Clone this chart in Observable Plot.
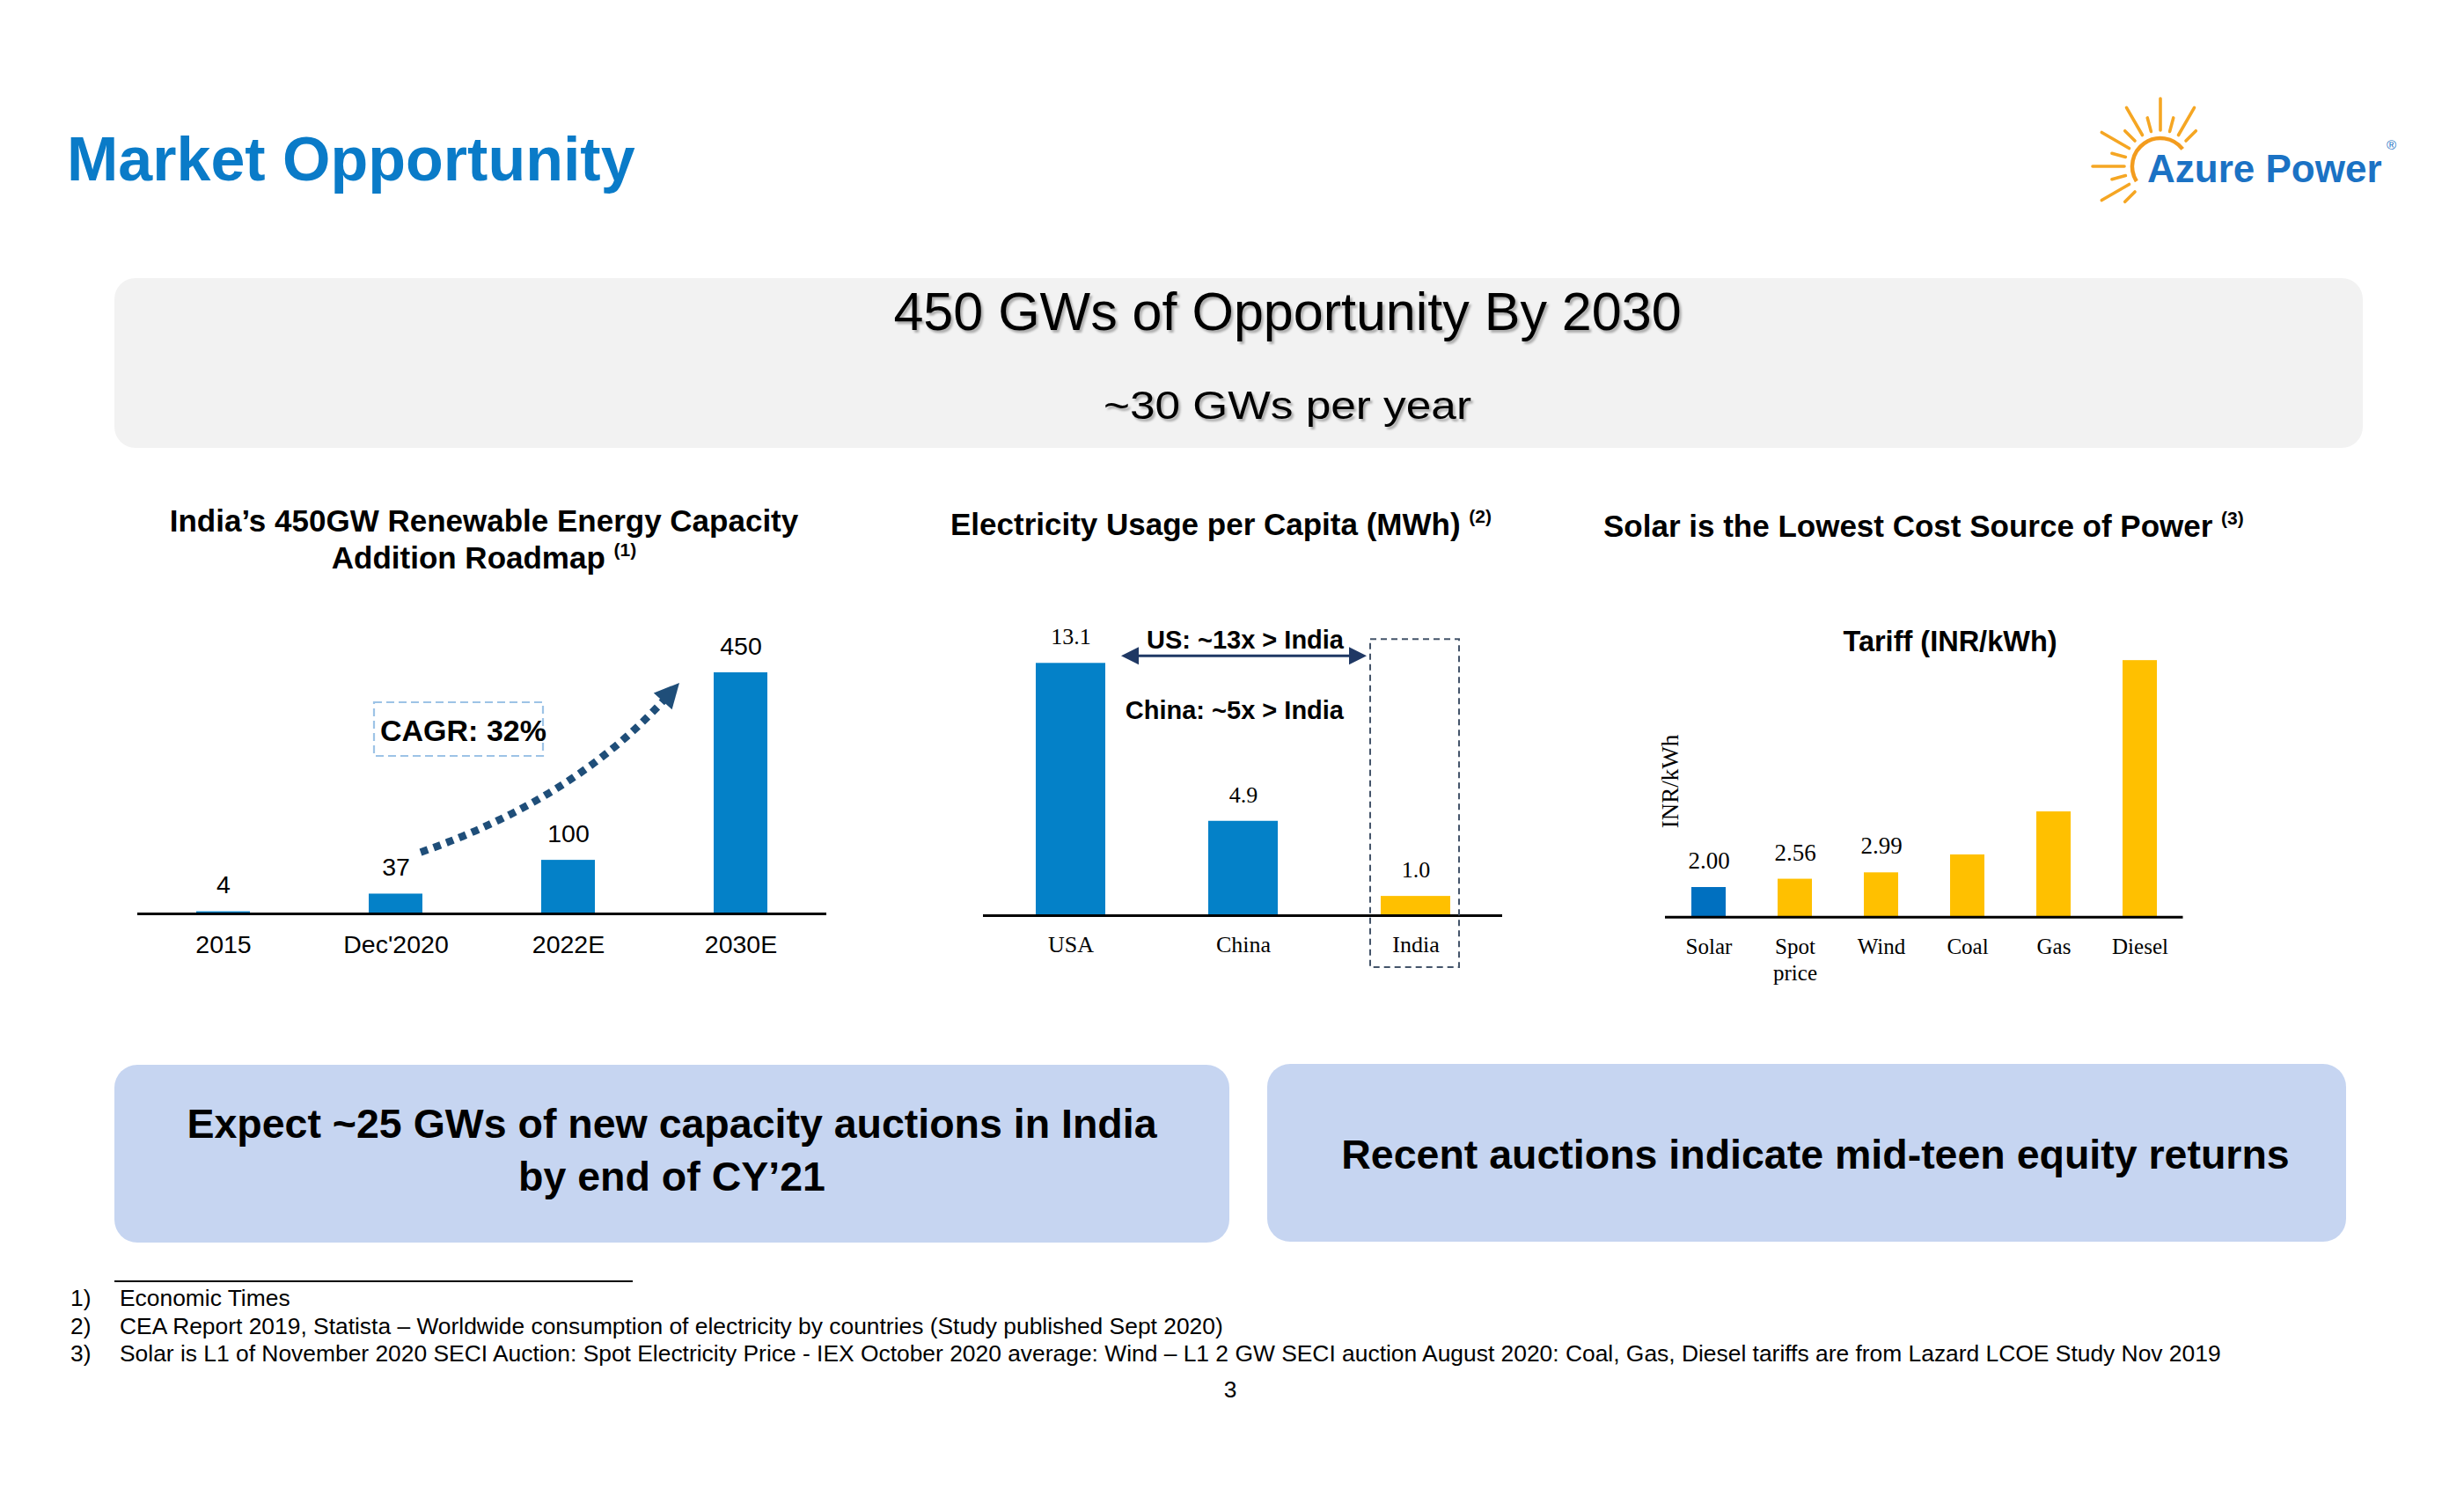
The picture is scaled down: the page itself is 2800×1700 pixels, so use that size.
<!DOCTYPE html>
<html>
<head>
<meta charset="utf-8">
<title>Market Opportunity</title>
<script src="https://cdn.jsdelivr.net/npm/d3@7"></script>
<script src="https://cdn.jsdelivr.net/npm/@observablehq/plot@0.6"></script>
<style>
  html, body { margin: 0; padding: 0; background: #fff; }
  #page { position: relative; width: 2800px; height: 1700px; overflow: hidden; background: #fff; }
  #bg { position: absolute; left: 0; top: 0; }
  .chart { position: absolute; }
</style>
</head>
<body>
<div id="page">
<svg id="bg" width="2800" height="1700" xmlns="http://www.w3.org/2000/svg" font-family="'Liberation Sans', Arial, Helvetica, sans-serif">
  <defs>
    <filter id="shadow" x="-5%" y="-40%" width="110%" height="180%">
      <feDropShadow dx="2.5" dy="3" stdDeviation="1.3" flood-color="#000" flood-opacity="0.28"/>
    </filter>
  </defs>
  <text x="76" y="205" font-size="70" font-weight="bold" fill="#0a7bc8">Market Opportunity</text>

  <g id="logo"></g>

  <rect x="130" y="316" width="2555" height="193" rx="24" fill="#f2f2f2"/>
  <text x="1463" y="375" text-anchor="middle" font-size="61" fill="#000" filter="url(#shadow)">450 GWs of Opportunity By 2030</text>
  <text x="1463" y="476" text-anchor="middle" font-size="44" textLength="418" lengthAdjust="spacingAndGlyphs" fill="#000" filter="url(#shadow)">~30 GWs per year</text>

  <text x="550" y="604" text-anchor="middle" font-size="35" font-weight="bold">India’s 450GW Renewable Energy Capacity</text>
  <text x="550" y="646" text-anchor="middle" font-size="35" font-weight="bold">Addition Roadmap <tspan font-size="21" dy="-14">(1)</tspan></text>
  <text x="1080" y="608" font-size="35" font-weight="bold">Electricity Usage per Capita (MWh) <tspan font-size="21" dy="-14">(2)</tspan></text>
  <text x="1822" y="610" font-size="35" font-weight="bold">Solar is the Lowest Cost Source of Power <tspan font-size="21" dy="-14">(3)</tspan></text>
  <text x="2216" y="740" text-anchor="middle" font-size="32.5" font-weight="bold">Tariff (INR/kWh)</text>

  <rect x="130" y="1210" width="1267" height="202" rx="26" fill="#c6d5f1"/>
  <rect x="1440" y="1209" width="1226" height="202" rx="26" fill="#c6d5f1"/>
  <text x="763.5" y="1293" text-anchor="middle" font-size="46.5" font-weight="bold">Expect ~25 GWs of new capacity auctions in India</text>
  <text x="763.5" y="1353" text-anchor="middle" font-size="46.5" font-weight="bold">by end of CY’21</text>
  <text x="2063" y="1328" text-anchor="middle" font-size="46.5" font-weight="bold">Recent auctions indicate mid-teen equity returns</text>

  <line x1="130" x2="719" y1="1456" y2="1456" stroke="#000" stroke-width="2"/>
  <g font-size="26.4" fill="#000">
    <text x="80" y="1484">1)</text>
    <text x="136" y="1484">Economic Times</text>
    <text x="80" y="1516">2)</text>
    <text x="136" y="1516">CEA Report 2019, Statista – Worldwide consumption of electricity by countries (Study published Sept 2020)</text>
    <text x="80" y="1547">3)</text>
    <text x="136" y="1547">Solar is L1 of November 2020 SECI Auction: Spot Electricity Price -  IEX October 2020 average: Wind – L1 2 GW SECI auction August 2020: Coal, Gas, Diesel tariffs are from Lazard LCOE Study Nov 2019</text>
    <text x="1398" y="1588" text-anchor="middle">3</text>
  </g>
</svg>
<div id="c1" class="chart" style="left:156px; top:690px; width:783px;"></div>
<div id="c2" class="chart" style="left:1117px; top:690px; width:590px;"></div>
<div id="c3" class="chart" style="left:1891.5px; top:690px; width:588.5px;"></div>
</div>

<script>
// ---------------- DATA ----------------
const roadmapYears = ["2015", "Dec'2020", "2022E", "2030E"];
const roadmapGW = [4, 37, 100, 450];

const usageCountries = ["USA", "China", "India"];
const usageMWh = [13.1, 4.9, 1.0];

const tariffSources = ["Solar", "Spot price", "Wind", "Coal", "Gas", "Diesel"];
const tariffINR = [2.00, 2.56, 2.99, 4.2, 7.1, 17.3];
const tariffLabelled = ["Solar", "Spot price", "Wind"];

// ---------------- STYLE ----------------
const SANS = "'Liberation Sans', Arial, Helvetica, sans-serif";
const SERIF = "'Liberation Serif', 'Times New Roman', serif";
const BLUE = "#0481c8";
const SOLAR_BLUE = "#0070c0";
const GOLD = "#ffc000";
const NAVY = "#1f4e79";
const DARK_NAVY = "#1f3864";

// ---------------- LOGO (decoration) ----------------
{
  const g = d3.select("#logo");
  const cx = 2455, cy = 189;
  const rays = [45, 60, 75, 90, 105, 120, 135, 150, 165, 180, 195, 210, 225];
  rays.forEach((a, i) => {
    const long = i % 2 === 1;
    const r0 = 41, r1 = long ? 77 : 57;
    const t = a * Math.PI / 180;
    g.append("line")
      .attr("x1", cx + r0 * Math.cos(t)).attr("y1", cy - r0 * Math.sin(t))
      .attr("x2", cx + r1 * Math.cos(t)).attr("y2", cy - r1 * Math.sin(t))
      .attr("stroke", "#f5a623").attr("stroke-width", 3.6).attr("stroke-linecap", "round");
  });
  const r = 32, a0 = 212 * Math.PI / 180, a1 = 38 * Math.PI / 180;
  g.append("path")
    .attr("d", `M${cx + r * Math.cos(a0)},${cy - r * Math.sin(a0)}A${r},${r} 0 0 1 ${cx + r * Math.cos(a1)},${cy - r * Math.sin(a1)}`)
    .attr("fill", "none").attr("stroke", "#f39c1e").attr("stroke-width", 4.5);
  g.append("text").attr("x", 2440).attr("y", 207).attr("font-size", 44).attr("font-weight", "bold")
    .attr("fill", "#1b72c4").text("Azure Power");
  g.append("text").attr("x", 2712).attr("y", 170).attr("font-size", 15)
    .attr("fill", "#1b72c4").text("®");
}

// ---------------- CHART 1: Renewable roadmap ----------------
const roadmap = roadmapYears.map((cat, i) => ({cat, value: roadmapGW[i]}));
const chart1 = Plot.plot({
  width: 783, height: 410,
  marginLeft: 0, marginRight: 0, marginTop: 74, marginBottom: 62,
  style: {background: "transparent", fontFamily: SANS, fontSize: "28.5px", color: "#000", overflow: "visible"},
  x: {domain: roadmapYears, paddingInner: 0.689, paddingOuter: 0.34},
  y: {domain: [0, 450], axis: null},
  marks: [
    Plot.barY(roadmap, {x: "cat", y: "value", fill: BLUE}),
    Plot.ruleY([0], {stroke: "#000", strokeWidth: 3}),
    Plot.text(roadmap, {x: "cat", y: "value", text: d => String(d.value), dy: -30, fontSize: 28.5}),
    Plot.axisX({tickSize: 0, tickPadding: 24, fontSize: 28.5, label: null})
  ]
});
document.getElementById("c1").appendChild(chart1);
{
  const sx = chart1.scale("x"), sy = chart1.scale("y"), bw = sx.bandwidth;
  const g = d3.select(chart1).append("g").attr("class", "annotation");
  const p0 = [sx.apply("Dec'2020") + bw - 2, sy.apply(37) - 47];
  const c = [sx.apply("2022E") + bw / 2 + 8, sy.apply(100) - 70];
  const tip = [sx.apply("2030E") - 39, sy.apply(450) + 12];
  const dx = tip[0] - c[0], dy = tip[1] - c[1], L = Math.hypot(dx, dy);
  const u = [dx / L, dy / L], n = [-u[1], u[0]];
  const headLen = 28, headHalf = 14;
  const end = [tip[0] - u[0] * (headLen - 3), tip[1] - u[1] * (headLen - 3)];
  g.append("path").attr("d", `M${p0}Q${c} ${end}`)
    .attr("fill", "none").attr("stroke", NAVY).attr("stroke-width", 8.5).attr("stroke-dasharray", "8.5 7");
  const base = [tip[0] - u[0] * headLen, tip[1] - u[1] * headLen];
  g.append("path")
    .attr("d", `M${tip}L${base[0] + n[0] * headHalf},${base[1] + n[1] * headHalf}L${base[0] - n[0] * headHalf},${base[1] - n[1] * headHalf}Z`)
    .attr("fill", NAVY);
  const bx = sx.apply("Dec'2020") + 6, by = sy.apply(450) + 34;
  g.append("rect").attr("x", bx).attr("y", by).attr("width", 192).attr("height", 61)
    .attr("fill", "none").attr("stroke", "#9dc3e6").attr("stroke-width", 2.2).attr("stroke-dasharray", "9 5");
  g.append("text").attr("x", bx + 7).attr("y", by + 44).attr("font-size", 34).attr("font-weight", "bold")
    .attr("text-anchor", "start").attr("fill", "#000").text("CAGR: 32%");
}

// ---------------- CHART 2: Electricity usage per capita ----------------
const usage = usageCountries.map((cat, i) => ({cat, value: usageMWh[i]}));
const chart2 = Plot.plot({
  width: 590, height: 430,
  marginLeft: 0, marginRight: 0, marginTop: 63.3, marginBottom: 80,
  style: {background: "transparent", fontFamily: SERIF, fontSize: "26px", color: "#000", overflow: "visible"},
  x: {domain: usageCountries, paddingInner: 0.5974, paddingOuter: 0.302},
  y: {domain: [0, 13.1], axis: null},
  marks: [
    Plot.barY(usage, {x: "cat", y: "value", fill: BLUE, filter: d => d.cat !== "India"}),
    Plot.barY(usage, {x: "cat", y: "value", fill: GOLD, filter: d => d.cat === "India"}),
    Plot.ruleY([0], {stroke: "#000", strokeWidth: 3}),
    Plot.text(usage, {x: "cat", y: "value", text: d => d3.format(".1f")(d.value), dy: -30, fontSize: 26}),
    Plot.axisX({tickSize: 0, tickPadding: 23, fontSize: 26, label: null})
  ]
});
document.getElementById("c2").appendChild(chart2);
{
  const sx = chart2.scale("x"), sy = chart2.scale("y"), bw = sx.bandwidth;
  const g = d3.select(chart2).append("g").attr("class", "annotation");
  const indiaX = sx.apply("India"), usaEnd = sx.apply("USA") + bw;
  const top = sy.apply(13.1), base = sy.apply(0);
  g.append("rect").attr("x", indiaX - 12).attr("y", top - 27).attr("width", bw + 22).attr("height", base - top + 86)
    .attr("fill", "none").attr("stroke", "#44546a").attr("stroke-width", 2).attr("stroke-dasharray", "7 5");
  const ay = top - 8, x1 = usaEnd + 18, x2 = indiaX - 16, hl = 20, hh = 10;
  g.append("line").attr("x1", x1 + hl - 2).attr("x2", x2 - hl + 2).attr("y1", ay).attr("y2", ay)
    .attr("stroke", DARK_NAVY).attr("stroke-width", 3);
  g.append("path").attr("d", `M${x1},${ay}L${x1 + hl},${ay - hh}L${x1 + hl},${ay + hh}Z`).attr("fill", DARK_NAVY);
  g.append("path").attr("d", `M${x2},${ay}L${x2 - hl},${ay - hh}L${x2 - hl},${ay + hh}Z`).attr("fill", DARK_NAVY);
  g.append("text").attr("x", indiaX - 42).attr("y", top - 16).attr("text-anchor", "end")
    .attr("font-family", SANS).attr("font-size", 29).attr("font-weight", "bold").attr("fill", "#000").text("US: ~13x > India");
  g.append("text").attr("x", indiaX - 42).attr("y", top + 64).attr("text-anchor", "end")
    .attr("font-family", SANS).attr("font-size", 29).attr("font-weight", "bold").attr("fill", "#000").text("China: ~5x > India");
}

// ---------------- CHART 3: Tariffs ----------------
const tariff = tariffSources.map((cat, i) => ({cat, value: tariffINR[i]}));
const chart3 = Plot.plot({
  width: 588.5, height: 430,
  marginLeft: 0, marginRight: 0, marginTop: 43.3, marginBottom: 78.3,
  style: {background: "transparent", fontFamily: SERIF, fontSize: "25px", color: "#000", overflow: "visible"},
  x: {domain: tariffSources, paddingInner: 0.6, paddingOuter: 0.2874},
  y: {domain: [0, 18.3], axis: null},
  marks: [
    Plot.barY(tariff, {x: "cat", y: "value", fill: GOLD, filter: d => d.cat !== "Solar"}),
    Plot.barY(tariff, {x: "cat", y: "value", fill: SOLAR_BLUE, filter: d => d.cat === "Solar"}),
    Plot.ruleY([0], {stroke: "#000", strokeWidth: 3}),
    Plot.text(tariff, {filter: d => tariffLabelled.includes(d.cat), x: "cat", y: "value",
      text: d => d3.format(".2f")(d.value), dy: -30, fontSize: 27}),
    Plot.text(["INR/kWh"], {frameAnchor: "left", textAnchor: "middle", lineAnchor: "middle", rotate: -90, dx: 6, fontSize: 27}),
    Plot.axisX({tickSize: 0, tickPadding: 20, fontSize: 25, lineHeight: 1.22,
      tickFormat: d => d.replace(" ", "\n"), label: null})
  ]
});
document.getElementById("c3").appendChild(chart3);
</script>
</body>
</html>
